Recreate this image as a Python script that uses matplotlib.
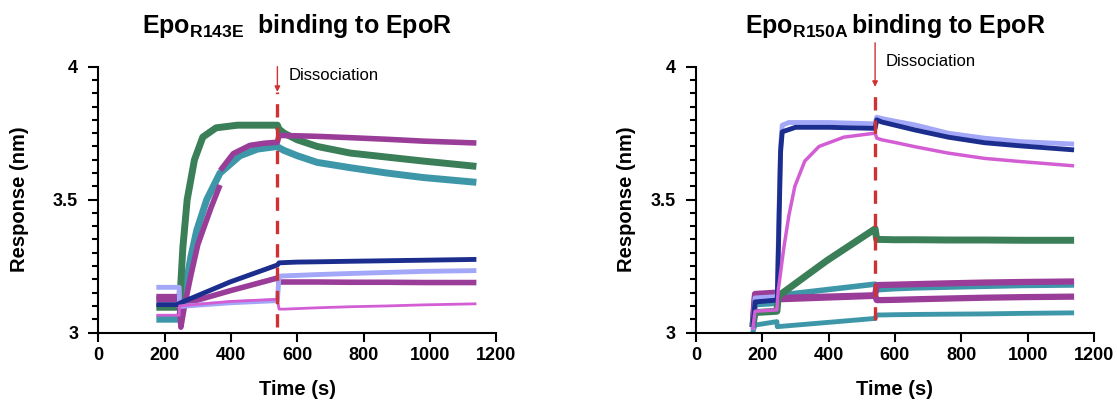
import numpy as np
import matplotlib
matplotlib.use('Agg')
import matplotlib.pyplot as plt

plt.rcParams['font.family'] = 'Liberation Sans'
plt.rcParams['mathtext.fontset'] = 'custom'
plt.rcParams['mathtext.rm'] = 'Liberation Sans'
plt.rcParams['mathtext.bf'] = 'Liberation Sans:bold'
plt.rcParams['mathtext.it'] = 'Liberation Sans:italic'

GREEN = '#3b7f58'
TEAL = '#3e97a9'
PURPLE = '#993d98'
NAVY = '#1b2e8e'
LAVENDER = '#a2a7f7'
PINK = '#d35ed4'
RED = '#cf3232'

DISSOC_T = 540
T_DISS = [545, 560, 600, 660, 760, 870, 980, 1140]
NAN = float('nan')

# ---- left panel: Epo R143E ----
L_T_BASE = [175, 244]

L_GREEN_BASE = [3.095, 3.095]
L_GREEN_T = [245, 255, 268, 290, 315, 355, 420, 540]
L_GREEN_ASSOC = [3.10, 3.32, 3.50, 3.65, 3.735, 3.77, 3.78, 3.78]
L_GREEN_DISS = [3.765, 3.75, 3.725, 3.70, 3.675, 3.66, 3.645, 3.625]

L_TEAL_BASE = [3.05, 3.05]
L_TEAL_T = [245, 260, 280, 297, 327, 367, 427, 480, 540]
L_TEAL_ASSOC = [3.06, 3.15, 3.29, 3.385, 3.50, 3.60, 3.665, 3.69, 3.70]
L_TEAL_DISS = [3.695, 3.685, 3.665, 3.64, 3.62, 3.60, 3.583, 3.565]

L_PURPLE_BASE = [3.135, 3.135]
L_PURPLE_T = [245, 249, 260, 280, 300, 317, 340, 367, 367.5, 368, 407, 457, 500, 540]
L_PURPLE_ASSOC = [3.10, 3.02, 3.10, 3.22, 3.33, 3.39, 3.47, 3.555, NAN, 3.61, 3.673, 3.704, 3.712, 3.716]
L_PURPLE_DISS = [3.741, 3.741, 3.74, 3.738, 3.733, 3.727, 3.72, 3.713]

L_PLUM_BASE = [3.125, 3.125]
L_PLUM_T = [245, 266, 397, 540]
L_PLUM_ASSOC = [3.10, 3.11, 3.157, 3.205]
L_PLUM_DISS = [3.19, 3.19, 3.19, 3.19, 3.189, 3.189, 3.188, 3.188]

L_LAV_BASE = [3.17, 3.17]
L_LAV_T = [245, 400, 540]
L_LAV_ASSOC = [3.098, 3.112, 3.12]
L_LAV_DISS = [3.212, 3.213, 3.215, 3.218, 3.222, 3.226, 3.23, 3.233]

L_NAVY_BASE = [3.105, 3.105]
L_NAVY_T = [245, 256, 397, 540]
L_NAVY_ASSOC = [3.11, 3.116, 3.19, 3.254]
L_NAVY_DISS = [3.262, 3.263, 3.265, 3.266, 3.268, 3.27, 3.272, 3.275]

L_PINK_BASE = [3.065, 3.065]
L_PINK_T = [245, 400, 540]
L_PINK_ASSOC = [3.10, 3.117, 3.125]
L_PINK_DISS = [3.088, 3.088, 3.09, 3.093, 3.097, 3.10, 3.104, 3.108]

# ---- right panel: Epo R150A ----
R_T_BASE = [171, 178, 244]

R_TEAL2_BASE = [3.0, 3.028, 3.041]
R_TEAL2_T = [245, 540]
R_TEAL2_ASSOC = [3.022, 3.053]
R_TEAL2_DISS = [3.066, 3.066, 3.067, 3.068, 3.069, 3.07, 3.072, 3.074]

R_PLUM_BASE = [3.02, 3.135, 3.14]
R_PLUM_T = [248, 540]
R_PLUM_ASSOC = [3.125, 3.138]
R_PLUM_DISS = [3.122, 3.122, 3.123, 3.125, 3.128, 3.131, 3.133, 3.135]

R_TEAL_BASE = [3.02, 3.105, 3.11]
R_TEAL_T = [248, 540]
R_TEAL_ASSOC = [3.14, 3.182]
R_TEAL_DISS = [3.16, 3.162, 3.165, 3.168, 3.171, 3.174, 3.177, 3.179]

R_PURPLE_BASE = [3.03, 3.145, 3.15]
R_PURPLE_T = [248, 540]
R_PURPLE_ASSOC = [3.13, 3.14]
R_PURPLE_DISS = [3.178, 3.179, 3.18, 3.182, 3.185, 3.188, 3.19, 3.192]

R_GREEN_BASE = [3.02, 3.075, 3.08]
R_GREEN_T = [248, 394, 540]
R_GREEN_ASSOC = [3.137, 3.27, 3.39]
R_GREEN_DISS = [3.35, 3.35, 3.349, 3.349, 3.348, 3.348, 3.347, 3.347]

R_LAV_BASE = [3.01, 3.13, 3.135]
R_LAV_T = [245, 250, 255, 260, 280, 400, 540]
R_LAV_ASSOC = [3.14, 3.45, 3.70, 3.78, 3.79, 3.79, 3.785]
R_LAV_DISS = [3.81, 3.805, 3.795, 3.781, 3.75, 3.731, 3.718, 3.709]

R_NAVY_BASE = [3.02, 3.115, 3.122]
R_NAVY_T = [245, 250, 255, 260, 300, 400, 540]
R_NAVY_ASSOC = [3.125, 3.40, 3.68, 3.755, 3.772, 3.772, 3.768]
R_NAVY_DISS = [3.80, 3.792, 3.78, 3.762, 3.735, 3.714, 3.702, 3.687]

R_PINK_BASE = [3.01, 3.08, 3.085]
R_PINK_T = [248, 265, 280, 298, 328, 371, 446, 540]
R_PINK_ASSOC = [3.16, 3.32, 3.44, 3.55, 3.645, 3.70, 3.735, 3.75]
R_PINK_DISS = [3.731, 3.725, 3.715, 3.699, 3.675, 3.655, 3.643, 3.627]

X_TICKS = [0, 200, 400, 600, 800, 1000, 1200]
Y_TICKS = [3, 3.5, 4]
Y_TICK_LABELS = ['3', '3.5', '4']


def draw_curve(ax, t_base, base, t_assoc, assoc, diss, color, lw):
    t = list(t_base) + list(t_assoc) + T_DISS
    y = list(base) + list(assoc) + list(diss)
    ax.plot(t, y, color=color, lw=lw, solid_joinstyle='round', solid_capstyle='butt')


def style_axes(ax, title, ylab_x, diss_text_y, arrow_top, dash_top, dash_bottom):
    ax.set_xlim(0, 1200)
    ax.set_ylim(3, 4)
    for side in ['top', 'right']:
        ax.spines[side].set_visible(False)
    for side in ['left', 'bottom']:
        ax.spines[side].set_linewidth(1.5)
    ax.set_xticks(X_TICKS)
    ax.set_yticks(Y_TICKS)
    ax.set_yticklabels(Y_TICK_LABELS)
    ax.set_yticks(np.arange(3, 4.001, 0.05), minor=True)
    ax.tick_params(axis='x', which='major', direction='out', length=6.5, width=1.5,
                   labelsize=13, pad=4)
    ax.tick_params(axis='y', which='major', direction='out', length=7.5, width=1.5,
                   labelsize=13, pad=7)
    ax.tick_params(axis='y', which='minor', direction='out', length=4.5, width=1.5)
    for lbl in ax.get_xticklabels() + ax.get_yticklabels():
        lbl.set_fontweight('bold')

    ax.set_xlabel('Time (s)', fontsize=14.5, fontweight='bold')
    ax.xaxis.set_label_coords(0.5, -0.18)
    ax.set_ylabel('Response (nm)', fontsize=14.5, fontweight='bold')
    ax.yaxis.set_label_coords(ylab_x, 0.5)

    ax.text(0.5, 1.125, title, transform=ax.transAxes, ha='center', va='baseline',
            fontsize=18, fontweight='bold')

    # dissociation marker
    ax.plot([DISSOC_T, DISSOC_T], [dash_bottom, dash_top], color=RED, lw=2.4,
            linestyle=(0, (4, 3)), zorder=10)
    ax.annotate('', xy=(DISSOC_T, dash_top), xytext=(DISSOC_T, arrow_top),
                arrowprops=dict(arrowstyle='-|>', color=RED, lw=1, mutation_scale=8,
                                shrinkA=0, shrinkB=0),
                annotation_clip=False)
    ax.text(DISSOC_T + 33, diss_text_y, 'Dissociation', fontsize=12, va='center',
            ha='left', clip_on=False)


fig = plt.figure(figsize=(11.17, 4.03), dpi=100)
ax1 = fig.add_axes([0.0880, 0.1749, 0.3563, 0.6596])
ax2 = fig.add_axes([0.6231, 0.1749, 0.3563, 0.6596])

# left
draw_curve(ax1, L_T_BASE, L_TEAL_BASE, L_TEAL_T, L_TEAL_ASSOC, L_TEAL_DISS, TEAL, 5)
draw_curve(ax1, L_T_BASE, L_GREEN_BASE, L_GREEN_T, L_GREEN_ASSOC, L_GREEN_DISS, GREEN, 5)
draw_curve(ax1, L_T_BASE, L_PURPLE_BASE, L_PURPLE_T, L_PURPLE_ASSOC, L_PURPLE_DISS, PURPLE, 4)
draw_curve(ax1, L_T_BASE, L_PLUM_BASE, L_PLUM_T, L_PLUM_ASSOC, L_PLUM_DISS, PURPLE, 4)
draw_curve(ax1, L_T_BASE, L_LAV_BASE, L_LAV_T, L_LAV_ASSOC, L_LAV_DISS, LAVENDER, 3.5)
draw_curve(ax1, L_T_BASE, L_NAVY_BASE, L_NAVY_T, L_NAVY_ASSOC, L_NAVY_DISS, NAVY, 3.5)
draw_curve(ax1, L_T_BASE, L_PINK_BASE, L_PINK_T, L_PINK_ASSOC, L_PINK_DISS, PINK, 2)
style_axes(ax1, r'$\mathbf{Epo}_{\mathbf{R143E}}$  binding to EpoR', -0.174,
           3.966, 4.0, 3.905, 3.02)

# right
draw_curve(ax2, R_T_BASE, R_TEAL2_BASE, R_TEAL2_T, R_TEAL2_ASSOC, R_TEAL2_DISS, TEAL, 3.5)
draw_curve(ax2, R_T_BASE, R_PLUM_BASE, R_PLUM_T, R_PLUM_ASSOC, R_PLUM_DISS, PURPLE, 4.5)
draw_curve(ax2, R_T_BASE, R_TEAL_BASE, R_TEAL_T, R_TEAL_ASSOC, R_TEAL_DISS, TEAL, 4)
draw_curve(ax2, R_T_BASE, R_PURPLE_BASE, R_PURPLE_T, R_PURPLE_ASSOC, R_PURPLE_DISS, PURPLE, 4.5)
draw_curve(ax2, R_T_BASE, R_GREEN_BASE, R_GREEN_T, R_GREEN_ASSOC, R_GREEN_DISS, GREEN, 5)
draw_curve(ax2, R_T_BASE, R_LAV_BASE, R_LAV_T, R_LAV_ASSOC, R_LAV_DISS, LAVENDER, 3.5)
draw_curve(ax2, R_T_BASE, R_NAVY_BASE, R_NAVY_T, R_NAVY_ASSOC, R_NAVY_DISS, NAVY, 3.5)
draw_curve(ax2, R_T_BASE, R_PINK_BASE, R_PINK_T, R_PINK_ASSOC, R_PINK_DISS, PINK, 2.5)
style_axes(ax2, r'$\mathbf{Epo}_{\mathbf{R150A}}\,$binding to EpoR', -0.152,
           4.021, 4.09, 3.924, 3.048)

fig.savefig('out.png', dpi=100)
